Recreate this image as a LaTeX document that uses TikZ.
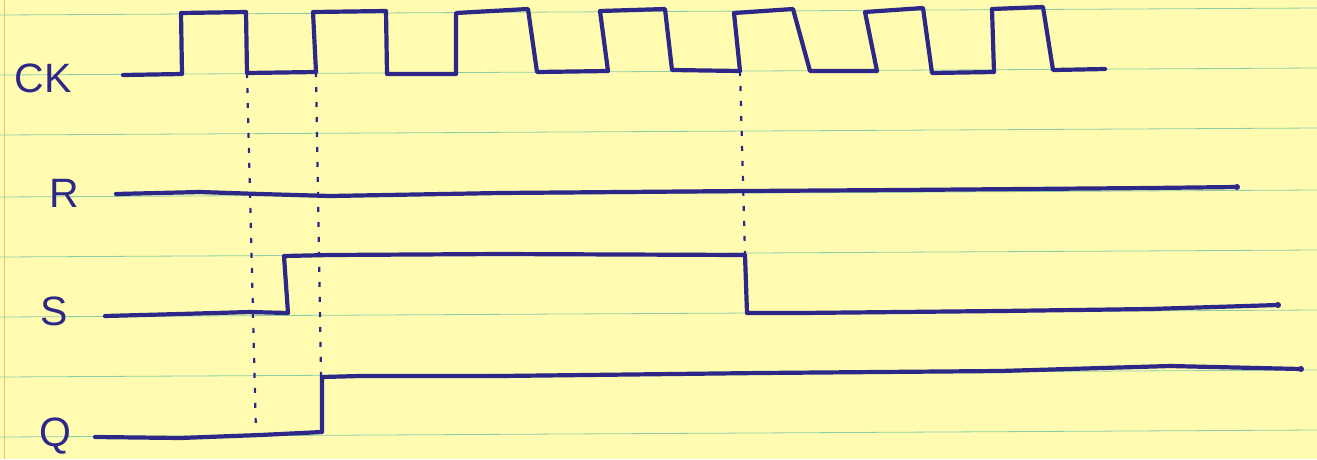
\documentclass[tikz,border=0pt]{standalone}
\usepackage{fontspec}
\setmainfont{Liberation Sans}
\definecolor{paper}{RGB}{255,252,178}
\definecolor{rule}{RGB}{140,205,165}
\definecolor{margin}{RGB}{225,190,140}
\definecolor{ink}{RGB}{45,40,135}
\tikzset{
  sig/.style={draw=ink, line width=4.2pt, line join=round, line cap=round},
  guide/.style={draw=ink, line width=2.2pt, dash pattern=on 5pt off 10pt},
  lbl/.style={text=ink, font=\fontsize{41}{41}\selectfont, inner sep=0pt},
  ruled/.style={draw=rule, line width=0.8pt}
}
\begin{document}
\begin{tikzpicture}[x=1pt,y=-1pt]
\fill[paper] (0,0) rectangle (1317,459);
\useasboundingbox (0,0) rectangle (1317,459);
% ruled lines
\foreach \y in {15,75,135,197,257,317,377,437}
  \draw[ruled] (0,\y) -- (1317,\y-7);
\draw[draw=margin, line width=0.8pt] (4,0) -- (4,459);
% labels
\node[lbl] (ck) at (43,78) {CK};
\node[lbl] (r) at (64,193) {R};
\node[lbl] (s) at (54,311) {S};
\node[lbl] (q) at (55,436) {Q};
% clock
\coordinate (ckA) at (247,73);
\coordinate (ckB) at (316,72);
\coordinate (ckC) at (740,71);
\draw[sig] (123,75) -- (182,74) -- (181,13) -- (246,12) -- (ckA) -- (ckB) -- (313,12)
  -- (386,11) -- (387,74) -- (456,74) -- (456,13) -- (528,9) -- (537,72) -- (608,71)
  -- (600,11) -- (665,9) -- (672,70) -- (ckC) -- (734,13) -- (793,9) -- (810,71)
  -- (877,71) -- (865,12) -- (923,8) -- (932,73) -- (994,72) -- (992,9) -- (1043,7)
  -- (1053,70) -- (1105,69);
% R
\draw[sig] (116,194) -- (200,192) -- (260,194) -- (330,196) -- (500,193) -- (745,191)
  -- (900,190) -- (1150,188) -- (1237,187);
\fill[ink] (1237,187) circle (3pt);
% S
\coordinate (sRise) at (288,313);
\coordinate (sFall) at (745,255);
\draw[sig] (105,316) -- (180,314) -- (250,312) -- (sRise) -- (284,256) -- (330,255)
  -- (500,254) -- (sFall) -- (747,313) -- (800,313) -- (1000,311) -- (1150,309) -- (1278,305);
\fill[ink] (1278,305) circle (3pt);
% Q
\coordinate (qRise) at (322,432);
\draw[sig] (95,437) -- (180,438) -- (260,435) -- (qRise) -- (322,377) -- (360,376)
  -- (500,376) -- (760,373) -- (1000,371) -- (1170,366) -- (1301,369);
\fill[ink] (1301,369) circle (3pt);
% dashed guides
\coordinate (qLow) at (256,434);
\draw[guide] (ckA) -- (qLow);
\draw[guide] (ckB) -- (qRise);
\draw[guide] (ckC) -- (sFall);
\end{tikzpicture}
\end{document}
